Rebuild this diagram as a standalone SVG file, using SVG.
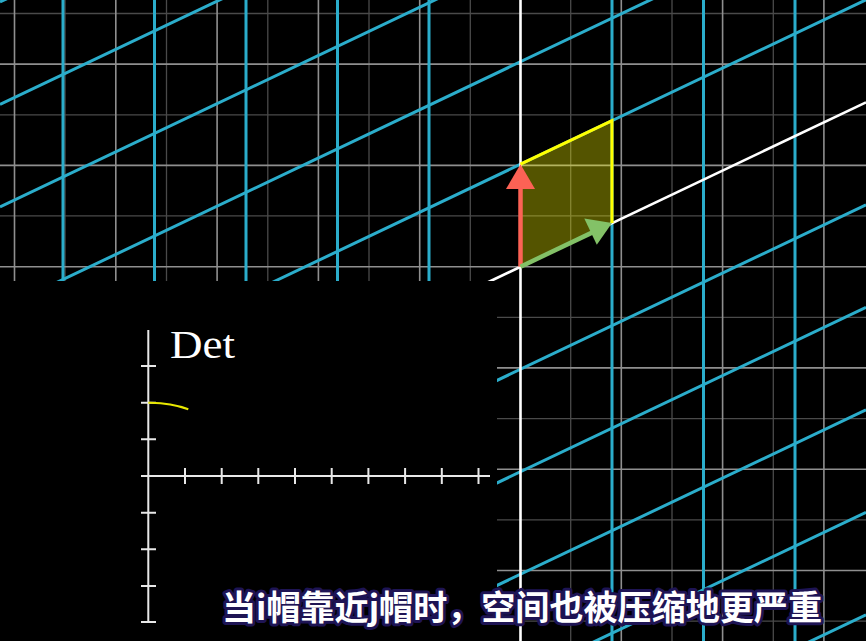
<svg xmlns="http://www.w3.org/2000/svg" width="866" height="641" viewBox="0 0 866 641">
<style>
.maj{stroke:#8f8f8f;stroke-width:1.6;fill:none}
.min{stroke:#4a4a4a;stroke-width:1.3;fill:none}
.blue{stroke:#2BADCB;stroke-width:3;fill:none}
.axis{stroke:#ffffff;stroke-width:2.6;fill:none}
.gax{stroke:#e8e8e8;stroke-width:2;fill:none}
.sub{font-family:"Noto Sans CJK SC","Noto Sans",sans-serif;font-weight:700;font-size:34px;fill:#ffffff;stroke:#1e1454;stroke-width:6;stroke-linejoin:round;paint-order:stroke}
</style>
<rect x="0" y="0" width="866" height="641" fill="#000"/>
<g id="background-grid">
<g class="min">
<path d="M65,0V641M166.5,0V641M267.8,0V641M369,0V641M470.3,0V641M570.7,0V641M672,0V641M773.3,0V641"/>
<path d="M0,13.5H866M0,114.8H866M0,215.9H866M0,317.3H866M0,418.6H866M0,519.9H866M0,621.2H866"/>
</g>
<g class="maj">
<path d="M14.5,0V641M115.8,0V641M217.1,0V641M318.4,0V641M419.7,0V641M621.3,0V641M722.6,0V641M823.9,0V641"/>
<path d="M0,64.1H866M0,165.4H866M0,266.7H866M0,367.9H866M0,469.2H866M0,570.5H866"/>
</g>
</g>
<g id="transformed-grid" class="blue">
<path d="M63,0V641M154.5,0V641M246,0V641M337.5,0V641M429,0V641M612,0V641M703.5,0V641M795,0V641"/>
<path d="M0,1027L866,614.8M0,924.5L866,512.3M0,822L866,409.8M0,719.5L866,307.3M0,617L866,204.8M0,412L866,-0.2M0,309.5L866,-102.7M0,207L866,-205.2M0,104.5L866,-307.7M0,2L866,-410.2"/>
</g>
<g id="transformed-axes" class="axis">
<path d="M520.5,0V641"/>
<path d="M0,514.5L866,102.3"/>
</g>
<g id="parallelogram">
<polygon points="520.5,266.7 612,223.1 612,120.6 520.5,164.2" fill="#ffff00" fill-opacity="0.33"/>
<polyline points="520.5,164.2 612,120.6 612,223.1" fill="none" stroke="#ffff00" stroke-width="3"/>
</g>
<g id="j-hat">
<line x1="520.5" y1="266.7" x2="520.5" y2="186" stroke="#FC6255" stroke-width="4.5"/>
<polygon points="520.5,164.2 535,189 506,189" fill="#FC6255"/>
</g>
<g id="i-hat">
<line x1="520.5" y1="266.7" x2="592" y2="232.6" stroke="#83C167" stroke-width="4.5"/>
<polygon points="612,223.1 596.8,244.8 584.3,218.6" fill="#83C167"/>
</g>
<rect id="panel" x="0" y="281" width="497" height="360" fill="#000"/>
<g id="det-graph">
<path class="gax" d="M148.3,330V622M141,366H156M141,402.7H156M141,439.3H156M141,512.7H156M141,549.3H156M141,586H156M141,622H156"/>
<path class="gax" d="M141,476H490M185,468V484M221.7,468V484M258.3,468V484M295,468V484M331.7,468V484M368.4,468V484M405.1,468V484M441.8,468V484M478.5,468V484"/>
<text x="170" y="357.5" font-family="'Liberation Serif',serif" font-size="39" fill="#ffffff" textLength="65" lengthAdjust="spacingAndGlyphs">Det</text>
<path d="M148.3,402.7Q170,402.3 188.3,409.3" fill="none" stroke="#E8E800" stroke-width="2"/>
</g>
<g id="subtitle">
<text class="sub" x="222" y="620" textLength="600" lengthAdjust="spacingAndGlyphs">当i帽靠近j帽时，空间也被压缩地更严重</text>
</g>
</svg>
